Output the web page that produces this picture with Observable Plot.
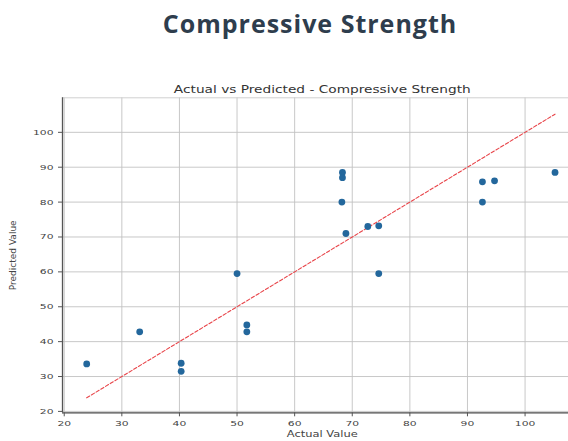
<!DOCTYPE html>
<html>
<head>
<meta charset="utf-8">
<script src="https://cdn.jsdelivr.net/npm/d3@7"></script>
<script src="https://cdn.jsdelivr.net/npm/@observablehq/plot@0.6"></script>
<style>
  html, body { margin: 0; padding: 0; background: #fff; overflow: hidden; }
  #page { position: relative; width: 568px; height: 441px; overflow: hidden; }
  #heading {
    position: absolute; left: 0; top: 5px; width: 620px; text-align: center;
    font-family: "Open Sans", sans-serif; font-weight: 700; font-size: 25px;
    line-height: 36px; letter-spacing: 1px; color: #2e3d4d;
  }
  #chart { position: absolute; left: 0; top: 60px; width: 600px; }
  #chart svg { max-width: none; }
</style>
</head>
<body>
<div id="page">
  <div id="heading">Compressive Strength</div>
  <div id="chart"></div>
</div>
<script>
// Test-set results: measured strength vs model prediction
const actual    = [23.9, 33.1, 40.3, 40.3, 50.0, 51.7, 51.7, 68.3, 68.3, 68.2, 68.9, 72.7, 74.6, 74.6, 92.6, 94.7, 92.6, 105.2];
const predicted = [33.6, 42.8, 33.8, 31.5, 59.5, 44.8, 42.8, 88.5, 87.0, 80.0, 71.0, 73.0, 73.2, 59.5, 85.8, 86.1, 80.0, 88.5];
const ticks = [20, 30, 40, 50, 60, 70, 80, 90, 100];
const subtitle = "Actual vs Predicted - Compressive Strength";
const xLabel = "Actual Value";
const yLabel = "Predicted Value";

const points = actual.map((a, i) => ({actual: a, predicted: predicted[i]}));
// perfect-prediction reference line y = x across the range of actual values
const lo = d3.min(actual), hi = d3.max(actual);
const ideal = [{v: lo}, {v: hi}];

const font = "DejaVu Sans, sans-serif";

const chart = Plot.plot({
  width: 600,
  height: 381,
  marginLeft: 62,
  marginRight: 18.4,
  marginTop: 37.3,
  marginBottom: 28.7,
  style: {fontFamily: font, background: "#fff", overflow: "visible", maxWidth: "none"},
  x: {domain: [19.7, 109.9]},
  y: {domain: [19.6, 109.9]},
  marks: [
    Plot.gridX(ticks, {stroke: "#c2c2c2", strokeOpacity: 1, strokeWidth: 0.9}),
    Plot.gridY(ticks, {stroke: "#c2c2c2", strokeOpacity: 1, strokeWidth: 0.9}),
    Plot.frame({stroke: "#d0d0d0", strokeWidth: 1}),
    Plot.axisX(ticks, {tickSize: 4, tickPadding: 4, fontSize: 7.7, color: "#444", stroke: "#555", label: null}),
    Plot.axisY(ticks, {tickSize: 4, tickPadding: 5, fontSize: 7.7, color: "#444", stroke: "#555", label: null}),
    Plot.ruleX([19.7], {stroke: "#555", strokeWidth: 1.3}),
    Plot.ruleY([19.6], {stroke: "#555", strokeWidth: 1.3}),
    Plot.line(ideal, {x: "v", y: "v", stroke: "#e8454a", strokeWidth: 1.1, strokeDasharray: "3.5,2"}),
    Plot.dot(points, {x: "actual", y: "predicted", r: 3.4, fill: "#23679c", stroke: "none"}),
    Plot.text([subtitle], {frameAnchor: "top", lineAnchor: "bottom", dy: -5, fontSize: 9.8, fill: "#333"}),
    Plot.text([xLabel], {frameAnchor: "bottom", lineAnchor: "middle", dy: 21.7, fontSize: 8.2, fill: "#444"}),
    Plot.text([yLabel], {frameAnchor: "left", textAnchor: "middle", lineAnchor: "middle", rotate: -90, dx: -49, fontSize: 9, fill: "#444"})
  ]
});

// matplotlib-style wide lettering: widen horizontal labels on the page
chart.querySelectorAll("text").forEach((t) => {
  const tr = t.getAttribute("transform") || "";
  if (!tr.includes("rotate")) t.setAttribute("transform", tr + " scale(1.4,1)");
});

document.getElementById("chart").appendChild(chart);
</script>
</body>
</html>
